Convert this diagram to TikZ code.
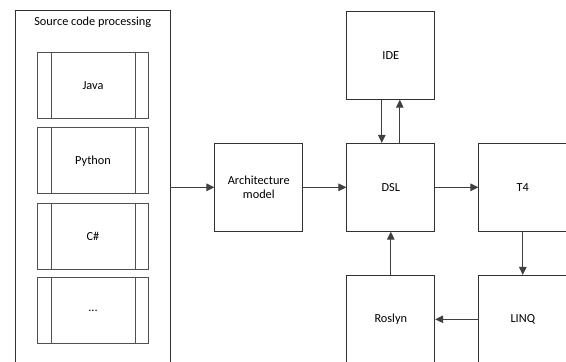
\documentclass[tikz,border=0pt]{standalone}
\usepackage{fontspec}
\setmainfont{Carlito}
\usetikzlibrary{arrows.meta}
\usepackage{xcolor}
\definecolor{linegray}{RGB}{64,64,64}
\definecolor{boxgray}{RGB}{50,50,50}
\definecolor{langgray}{RGB}{80,80,80}

\begin{document}
\begin{tikzpicture}[x=1pt,y=-1pt,-{Triangle[length=8pt,width=7.5pt]},node distance=132pt,line width=1pt,
    font=\fontsize{12.3}{14}\selectfont]
  \tikzstyle{block}=[draw=boxgray,-,line width=0.75pt,minimum width=88pt,minimum height=88pt,align=center,inner sep=0pt]
  \tikzstyle{langbox}=[draw=langgray,-,line width=0.75pt,minimum width=110.6pt,minimum height=66pt,inner sep=0pt,
    path picture={\draw[langgray,-,line width=0.75pt] ([xshift=13.3pt]path picture bounding box.north west) -- ([xshift=13.3pt]path picture bounding box.south west);
                  \draw[langgray,-,line width=0.75pt] ([xshift=-13.3pt]path picture bounding box.north east) -- ([xshift=-13.3pt]path picture bounding box.south east);}]
  \tikzstyle{flow}=[draw=linegray,fill=linegray]

  \useasboundingbox (0,0) rectangle (566,362);

  % source code processing
  \node[draw=boxgray,line width=0.75pt,minimum width=154.5pt,minimum height=353pt,inner sep=0pt] (src) at (92.75,187.3) {};
  \node[anchor=north,inner sep=6pt] (title) at (src.north) {Source code processing};
  \node[langbox] (java)   at (93,85.3)  {Java};
  \node[langbox] (python) at (93,160.8) {Python};
  \node[langbox] (csharp) at (93,236.1) {C\#};
  \node[langbox] (more)   at (93,310.8) {...};

  % tool chain
  \node[block]         (arch) at (258.8,187.3) {Architecture\\model};
  \node[block]         (dsl)  [right of=arch]  {DSL};
  \node[block]         (ide)  [above of=dsl]   {IDE};
  \node[block]         (t4)   [right of=dsl]   {T4};
  \node[block]         (linq) [below of=t4]    {LINQ};
  \node[block]         (roslyn) [below of=dsl] {Roslyn};

  \draw[flow] (src.east) -- (arch.west);
  \draw[flow] (arch) -- (dsl);
  \draw[flow] ([xshift=-9pt]ide.south) -- ([xshift=-9pt]dsl.north);
  \draw[flow] ([xshift=9pt]dsl.north) -- ([xshift=9pt]ide.south);
  \draw[flow] (dsl) -- (t4);
  \draw[flow] (t4) -- (linq);
  \draw[flow] (linq) -- (roslyn);
  \draw[flow] (roslyn) -- (dsl);
\end{tikzpicture}
\end{document}
